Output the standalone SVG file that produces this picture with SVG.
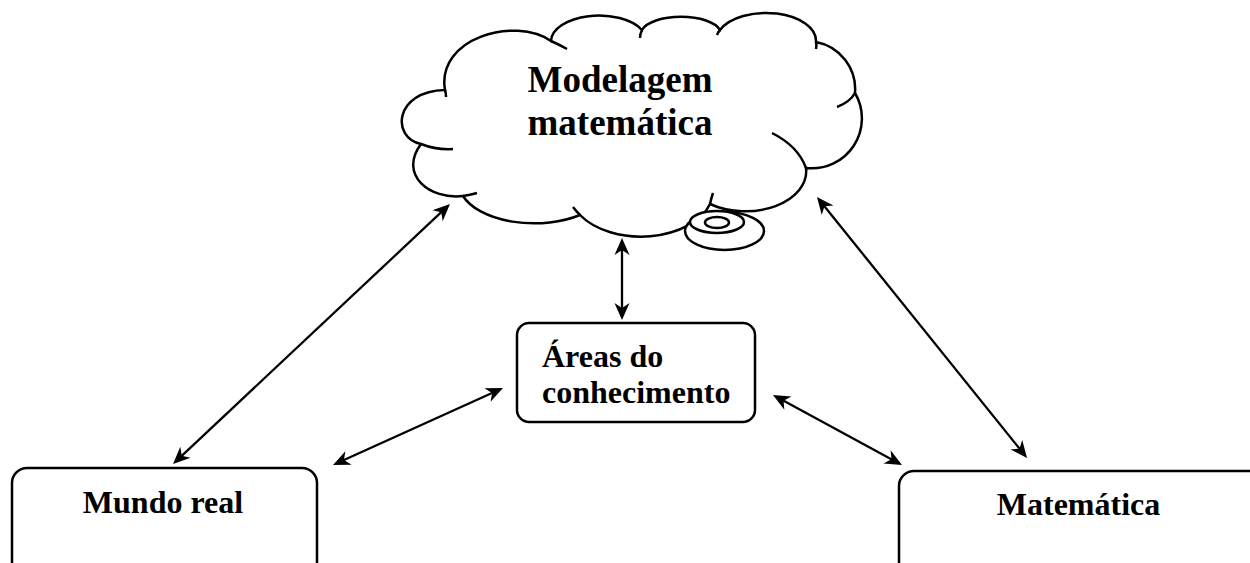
<svg xmlns="http://www.w3.org/2000/svg" width="1250" height="563" viewBox="0 0 1250 563">
<style>
.shape{fill:#fff;stroke:#000;stroke-width:2.5}
.tail{fill:none;stroke:#000;stroke-width:2.5}
.lbl{font-family:"Liberation Serif","Times New Roman",serif;font-weight:bold;fill:#000}
.conn line{stroke:#000;stroke-width:2.3;marker-start:url(#ah);marker-end:url(#ah)}
</style>
<defs>
<marker id="ah" viewBox="-24 -9 26 18" refX="-9" refY="0" markerWidth="26" markerHeight="18" markerUnits="userSpaceOnUse" orient="auto-start-reverse">
<path d="M0,0 L-17,-7.5 L-12,0 L-17,7.5 Z" fill="#000"/>
</marker>
</defs>
<rect width="1250" height="563" fill="#fff"/>

<g id="cloud">
<path class="shape" d="M 421 144 C 391 138 394 91 445 90 C 436 38 515 16 551 41 A 48 26 0 0 1 642 30 A 40 17 0 0 1 720 30 A 50 28 0 0 1 816 42 A 48 48 0 0 1 855 93 A 50 50 0 0 1 806 168 A 61 40 0 0 1 710 204 A 72 46 0 0 1 580 215 A 75 40 0 0 1 463 196 C 430 200 398 175 421 144 Z"/>
<path class="tail" d="M 421 144 Q 436 150 453 149"/>
<path class="tail" d="M 445 90 Q 446 93 446 97"/>
<path class="tail" d="M 551 41 Q 560 45 567 49"/>
<path class="tail" d="M 642 30 Q 640 34 640 38"/>
<path class="tail" d="M 720 30 Q 718 32 717 35"/>
<path class="tail" d="M 816 42 Q 817 45 816 49"/>
<path class="tail" d="M 855 93 Q 850 102 837 107"/>
<path class="tail" d="M 772 133 Q 798 146 806 168"/>
<path class="tail" d="M 710 204 Q 711 199 713 193"/>
<path class="tail" d="M 580 215 Q 576 211 573 207"/>
<path class="tail" d="M 463 196 Q 470 195 477 193"/>
<ellipse class="shape" cx="724.5" cy="231" rx="39.5" ry="19"/>
<ellipse class="shape" cx="717" cy="222" rx="27" ry="11"/>
<ellipse class="shape" cx="717" cy="222.5" rx="12" ry="5.5"/>
<text class="lbl" font-size="37" x="620" y="92" text-anchor="middle">Modelagem</text>
<text class="lbl" font-size="37" x="620" y="135" text-anchor="middle">matemática</text>
</g>

<g id="areas">
<rect class="shape" x="517" y="323" width="238" height="99" rx="12"/>
<text class="lbl" font-size="32" x="542" y="367">Áreas do</text>
<text class="lbl" font-size="32" x="542" y="403">conhecimento</text>
</g>

<g id="mundo">
<rect class="shape" x="12" y="468" width="305" height="130" rx="15"/>
<text class="lbl" font-size="32" x="163" y="513" text-anchor="middle">Mundo real</text>
</g>

<g id="matematica">
<rect class="shape" x="899" y="471" width="370" height="130" rx="15"/>
<text class="lbl" font-size="32" x="1078.5" y="515" text-anchor="middle">Matemática</text>
</g>

<g id="connectors" class="conn">
<line x1="443.4" y1="210.2" x2="179.6" y2="457.8"/>
<line x1="622" y1="247" x2="622" y2="311"/>
<line x1="822.6" y1="204" x2="1021.4" y2="451"/>
<line x1="341.2" y1="461.3" x2="494.8" y2="391.7"/>
<line x1="780.9" y1="399.3" x2="894.1" y2="460.7"/>
</g>
</svg>
